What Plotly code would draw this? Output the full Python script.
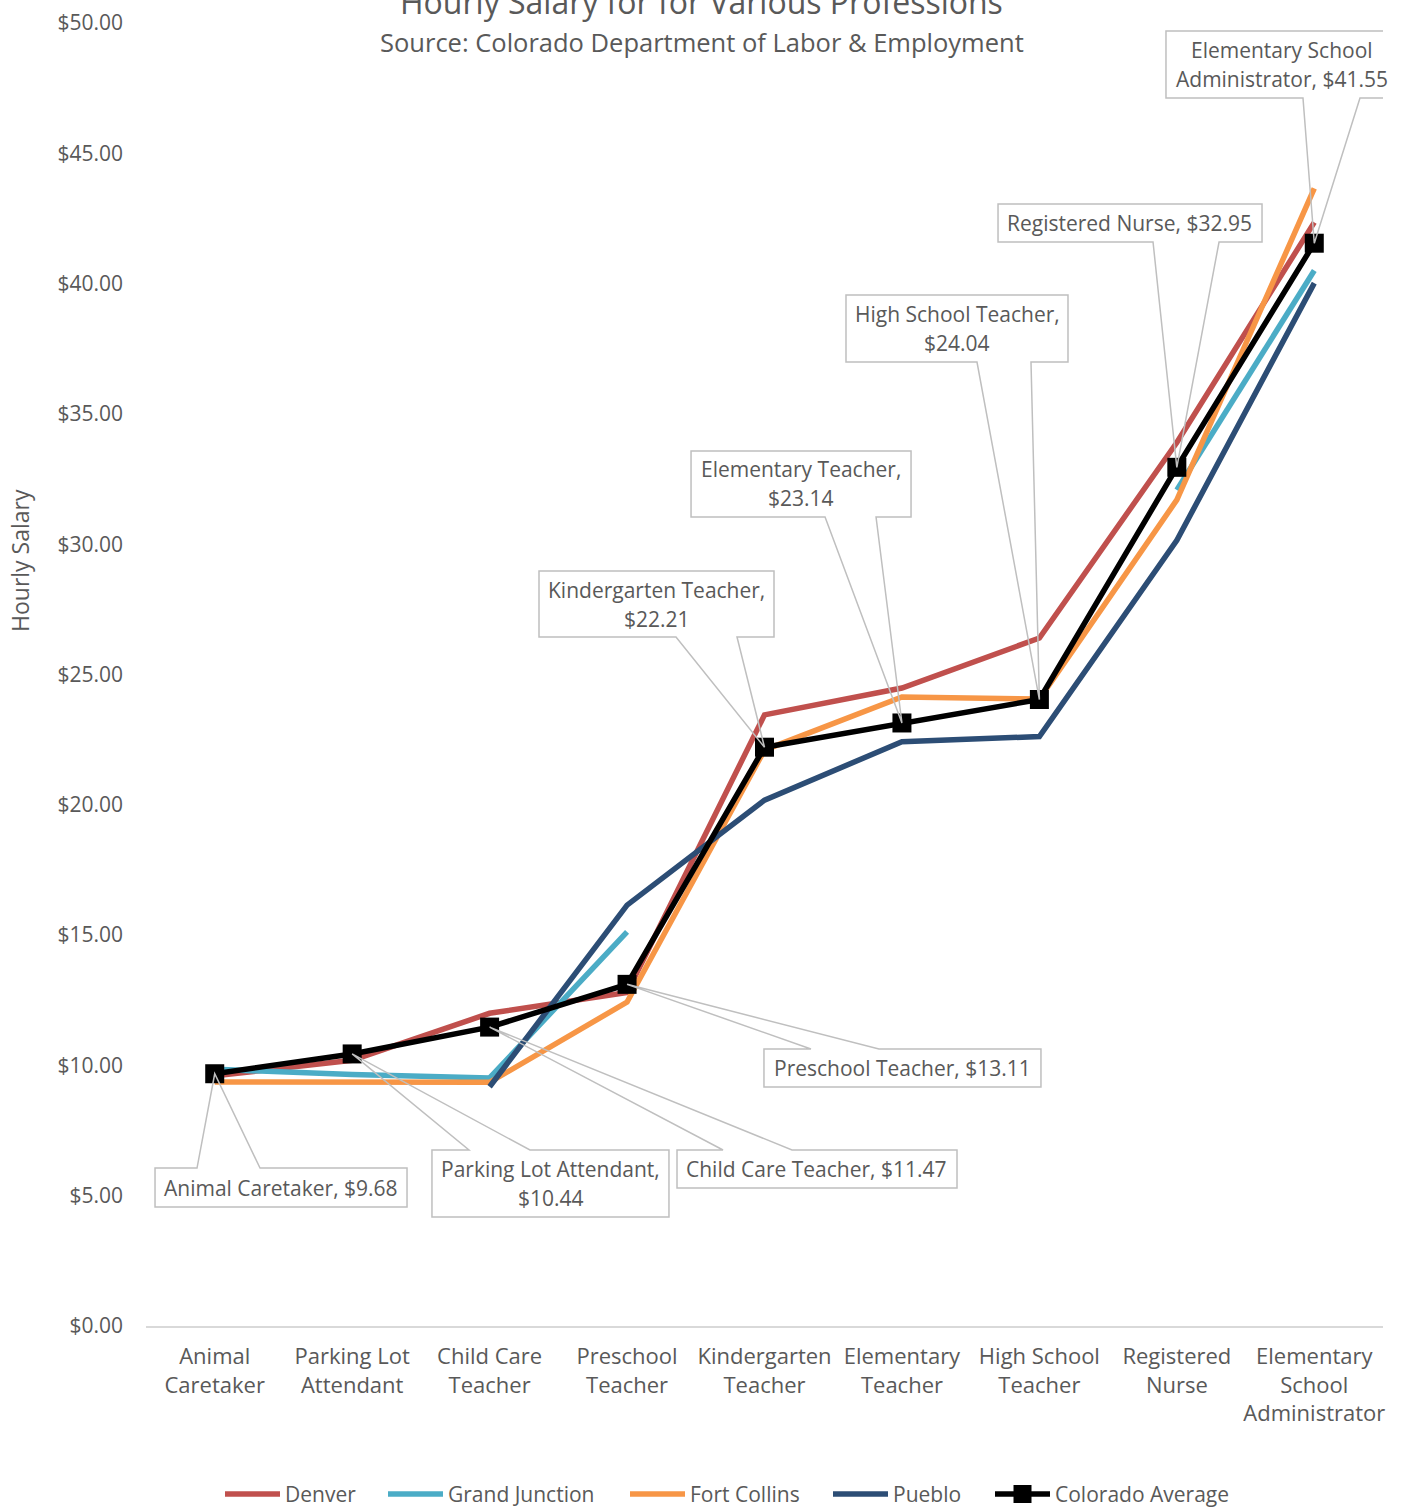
import plotly.graph_objects as go

# ---------------- data ----------------
categories = ["Animal Caretaker", "Parking Lot Attendant", "Child Care Teacher",
              "Preschool Teacher", "Kindergarten Teacher", "Elementary Teacher",
              "High School Teacher", "Registered Nurse", "Elementary School Administrator"]
tick_labels = ["Animal<br>Caretaker", "Parking Lot<br>Attendant", "Child Care<br>Teacher",
               "Preschool<br>Teacher", "Kindergarten<br>Teacher", "Elementary<br>Teacher",
               "High School<br>Teacher", "Registered<br>Nurse", "Elementary<br>School<br>Administrator"]
denver = [9.6, 10.2, 12.0, 12.8, 23.45, 24.48, 26.4, 33.9, 42.35]
grand_junction = [9.85, 9.65, 9.52, 15.12, None, None, None, 32.08, 40.5]
fort_collins = [9.36, 9.33, 9.35, 12.43, 22.1, 24.14, 24.06, 31.7, 43.65]
pueblo = [None, None, 9.18, 16.15, 20.18, 22.42, 22.62, 30.15, 40.02]
colorado_avg = [9.68, 10.44, 11.47, 13.11, 22.21, 23.14, 24.04, 32.95, 41.55]
# callout label text lines for the average series
label_lines = [["Animal Caretaker, $9.68"], ["Parking Lot Attendant,", "$10.44"],
               ["Child Care Teacher, $11.47"], ["Preschool Teacher, $13.11"],
               ["Kindergarten Teacher,", "$22.21"], ["Elementary Teacher,", "$23.14"],
               ["High School Teacher,", "$24.04"], ["Registered Nurse, $32.95"],
               ["Elementary School", "Administrator, $41.55"]]

# ---------------- layout constants ----------------
W, H = 1403, 1510
ML, MR, MT, MB = 146, 20, 23, 184
PW, PH = W - ML - MR, H - MT - MB
YMAX = 50
TXT = "#595959"
FONT = "Open Sans"
LINE_W = 5.5

# callout boxes in figure pixels: (left, top, right, bottom, leg1, leg2, side)
callouts = [
    (155, 1168, 407, 1207, 197, 260, "top"),
    (432, 1150, 669, 1217, 469, 530, "top"),
    (677, 1150, 957, 1188, 723, 792, "top"),
    (764, 1049, 1041, 1087, 811, 879, "top"),
    (539, 571, 774, 637, 676, 737, "bottom"),
    (691, 451, 911, 517, 825, 876, "bottom"),
    (846, 295, 1068, 362, 977, 1031, "bottom"),
    (998, 204, 1262, 242, 1153, 1219, "bottom"),
    (1166, 31, 1398, 98, 1303, 1360, "bottom"),
]
# manual legend item start x (figure pixels), centre y
legend_x = [225, 388, 630, 833, 995]
legend_y = 1494
legend_sample = 55

x_idx = list(range(len(categories)))

fig = go.Figure()
series = [("Denver", denver, "#C0504D"),
          ("Grand Junction", grand_junction, "#4BACC6"),
          ("Fort Collins", fort_collins, "#F79646"),
          ("Pueblo", pueblo, "#2C4D75")]
for name, vals, col in series:
    fig.add_trace(go.Scatter(x=x_idx, y=vals, name=name, mode="lines",
                             line=dict(color=col, width=LINE_W), connectgaps=False,
                             hoverinfo="skip"))
fig.add_trace(go.Scatter(x=x_idx, y=colorado_avg, name="Colorado Average",
                         mode="lines+markers",
                         line=dict(color="#000000", width=LINE_W),
                         marker=dict(symbol="square", size=19, color="#000000"),
                         hoverinfo="skip"))


def px(i):
    return ML + (i + 0.5) * PW / len(categories)


def py(v):
    return MT + PH * (1 - v / YMAX)


def paper_x(x):
    return (x - ML) / PW


def paper_y(y):
    return (MT + PH - y) / PH


shapes = []
annotations = []
for i, (L, T, R, B, a, b, side) in enumerate(callouts):
    cx, cy = px(i), py(colorado_avg[i])
    X = lambda x: x - cx
    Y = lambda y: cy - y
    if side == "top":
        pts = [(L, T), (a, T), None, (b, T), (R, T), (R, B), (L, B)]
    else:
        pts = [(L, T), (R, T), (R, B), (b, B), None, (a, B), (L, B)]
    segs = []
    for k, p in enumerate(pts):
        xy = (0, 0) if p is None else (X(p[0]), Y(p[1]))
        segs.append(("M" if k == 0 else "L") + f"{xy[0]:.1f},{xy[1]:.1f}")
    path = " ".join(segs) + " Z"
    shapes.append(dict(type="path", xref="x", yref="y", xsizemode="pixel",
                       ysizemode="pixel", xanchor=i, yanchor=colorado_avg[i],
                       path=path, line=dict(color="#BFBFBF", width=1.5),
                       fillcolor="rgba(0,0,0,0)", layer="above"))
    lines = label_lines[i]
    n = len(lines)
    mid = (T + B) / 2
    for j, t in enumerate(lines):
        ly = mid + (j - (n - 1) / 2) * 29
        annotations.append(dict(x=i, y=colorado_avg[i], xref="x", yref="y",
                                text=t, showarrow=False,
                                xshift=X((L + R) / 2), yshift=Y(ly),
                                font=dict(family=FONT, size=21, color=TXT)))

# manual legend
legend_items = [(n, c, False) for n, _, c in series] + [("Colorado Average", "#000000", True)]
for (name, col, mk), lx in zip(legend_items, legend_x):
    shapes.append(dict(type="line", xref="paper", yref="paper",
                       x0=paper_x(lx), x1=paper_x(lx + legend_sample),
                       y0=paper_y(legend_y), y1=paper_y(legend_y),
                       line=dict(color=col, width=LINE_W)))
    if mk:
        c = lx + legend_sample / 2
        shapes.append(dict(type="rect", xref="paper", yref="paper",
                           x0=paper_x(c - 9), x1=paper_x(c + 9),
                           y0=paper_y(legend_y + 9), y1=paper_y(legend_y - 9),
                           line=dict(width=0), fillcolor=col))
    annotations.append(dict(text=name, xref="paper", yref="paper",
                            x=paper_x(lx + legend_sample + 3), y=paper_y(legend_y),
                            xanchor="left", yanchor="middle", showarrow=False,
                            font=dict(family=FONT, size=21, color=TXT)))

# titles
annotations.append(dict(text="Hourly Salary for for Various Professions",
                        xref="paper", yref="paper", x=paper_x(W / 2),
                        y=paper_y(2), xanchor="center", yanchor="middle",
                        showarrow=False, font=dict(family=FONT, size=32, color=TXT)))
annotations.append(dict(text="Source: Colorado Department of Labor &amp; Employment",
                        xref="paper", yref="paper", x=paper_x(W / 2),
                        y=paper_y(42), xanchor="center", yanchor="middle",
                        showarrow=False, font=dict(family=FONT, size=25.5, color=TXT)))
annotations.append(dict(text="Hourly Salary", xref="paper", yref="paper",
                        x=paper_x(20), y=paper_y(561), textangle=-90,
                        xanchor="center", yanchor="middle", showarrow=False,
                        font=dict(family=FONT, size=23, color=TXT)))

fig.update_layout(
    width=W, height=H, autosize=False,
    margin=dict(l=ML, r=MR, t=MT, b=MB),
    paper_bgcolor="white", plot_bgcolor="white",
    showlegend=False,
    xaxis=dict(range=[-0.5, len(categories) - 0.5], tickvals=x_idx,
               ticktext=tick_labels, showgrid=False, zeroline=False,
               showline=True, linecolor="#D9D9D9", linewidth=1.5, ticks="",
               ticklabelstandoff=10, automargin=False,
               tickfont=dict(family=FONT, size=22, color=TXT)),
    yaxis=dict(range=[0, YMAX], dtick=5, tickformat="$.2f", showgrid=False,
               zeroline=False, showline=False, ticks="", ticklabelstandoff=22,
               automargin=False,
               tickfont=dict(family=FONT, size=21, color=TXT)),
    shapes=shapes, annotations=annotations,
)

fig.write_html("out.html")
